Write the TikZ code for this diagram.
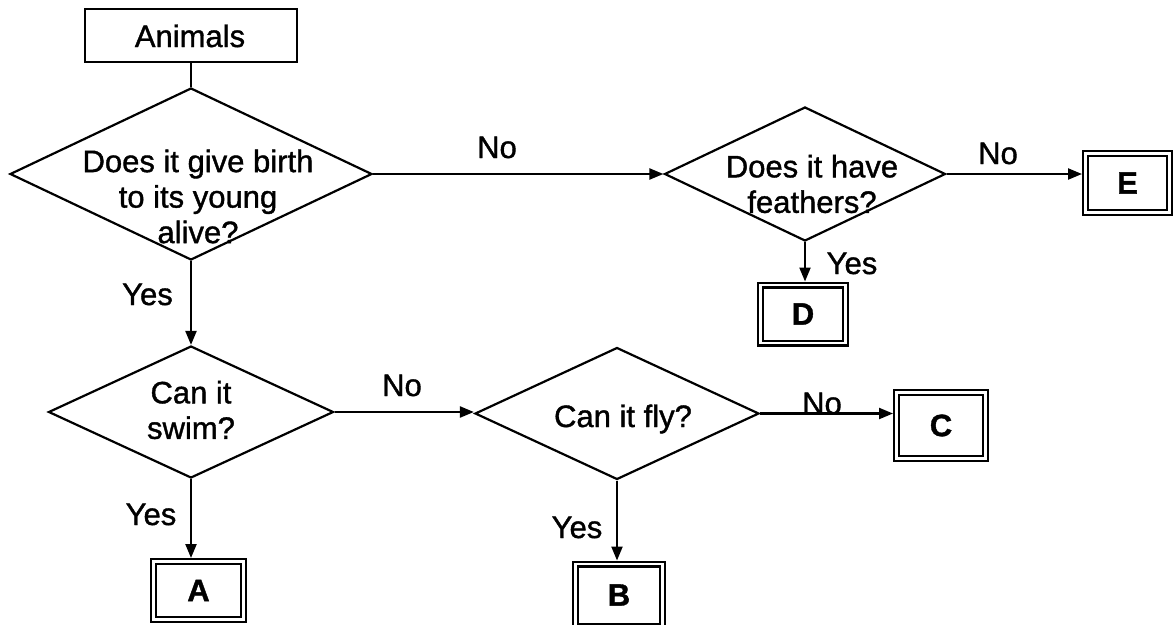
\documentclass[tikz,border=0pt]{standalone}
\usepackage{fontspec}
\setmainfont{Liberation Sans}[FakeBold=1.2]
\usetikzlibrary{shapes.geometric,arrows.meta}
\begin{document}
\begin{tikzpicture}[x=1pt,y=-1pt,
  every node/.style={font=\fontsize{31}{35.5}\selectfont},
  txt/.style={inner sep=0pt, align=center},
  lbl/.style={inner sep=0pt, anchor=base},
  plainbox/.style={draw, line width=2.3pt, inner sep=0pt},
  qbox/.style={draw, shape=diamond, line width=2.2pt, inner sep=0pt},
  dbox/.style={draw, double, double distance=2.4pt, line width=2.3pt, inner sep=0pt, outer sep=3.5pt, font=\fontsize{31}{35.5}\selectfont\bfseries},
  conn/.style={line width=2.2pt},
  arr/.style={line width=2.2pt, -{Triangle[length=14pt,width=11pt]}}
]
\useasboundingbox (0,0) rectangle (1174,624);

% start box
\node[plainbox, minimum width=212pt, minimum height=53pt] (animals) at (191,35.5) {};
\node[lbl] (animalst) at (190,47) {Animals};

% decision diamonds
\node[qbox, minimum width=362pt, minimum height=172pt] (q1) at (191,174) {};
\node[txt] (q1t) at (198,196.5) {Does it give birth\\to its young\\alive?};

\node[qbox, minimum width=281pt, minimum height=134pt] (q2) at (805,174) {};
\node[txt] (q2t) at (812,184) {Does it have\\feathers?};

\node[qbox, minimum width=285pt, minimum height=132pt] (q3) at (191,412) {};
\node[txt] (q3t) at (191,410) {Can it\\swim?};

\node[qbox, minimum width=284pt, minimum height=132pt] (q4) at (617,413.5) {};
\node[lbl] (q4t) at (623,427) {Can it fly?};

% answer boxes
\node[dbox, minimum width=90pt, minimum height=58pt] (A) at (198.5,590.5) {A};
\node[dbox, minimum width=87pt, minimum height=62pt] (B) at (619,595) {B};
\node[dbox, minimum width=89pt, minimum height=66pt] (C) at (941,425.5) {C};
\node[dbox, minimum width=85pt, minimum height=58pt] (D) at (803,314) {D};
\node[dbox, minimum width=84pt, minimum height=59pt] (E) at (1127.5,183) {E};

% connectors
\draw[conn] (animals.south) -- (q1.north);
\draw[arr] (q1.east) -- (q2.west);
\draw[arr] (q2.east) -- (q2.east -| E.west);
\draw[arr] (q2.south) -- (q2.south |- D.north);
\draw[arr] (q1.south) -- (q3.north);
\draw[arr] (q3.east) -- (q3.east -| q4.west);
\draw[arr] (q4.east) -- (q4.east -| C.west);
\draw[arr] (q3.south) -- (q3.south |- A.north);
\draw[arr] (q4.south) -- (q4.south |- B.north);

% labels
\node[lbl] (l1) at (497,158) {No};
\node[lbl] (l2) at (998,164) {No};
\node[lbl] (l3) at (852,274) {Yes};
\node[lbl] (l4) at (147.5,305) {Yes};
\node[lbl] (l5) at (402,396) {No};
\node[lbl] (l6) at (822,414) {No};
\node[lbl] (l7) at (151,525) {Yes};
\node[lbl] (l8) at (577,538) {Yes};
\end{tikzpicture}
\end{document}
